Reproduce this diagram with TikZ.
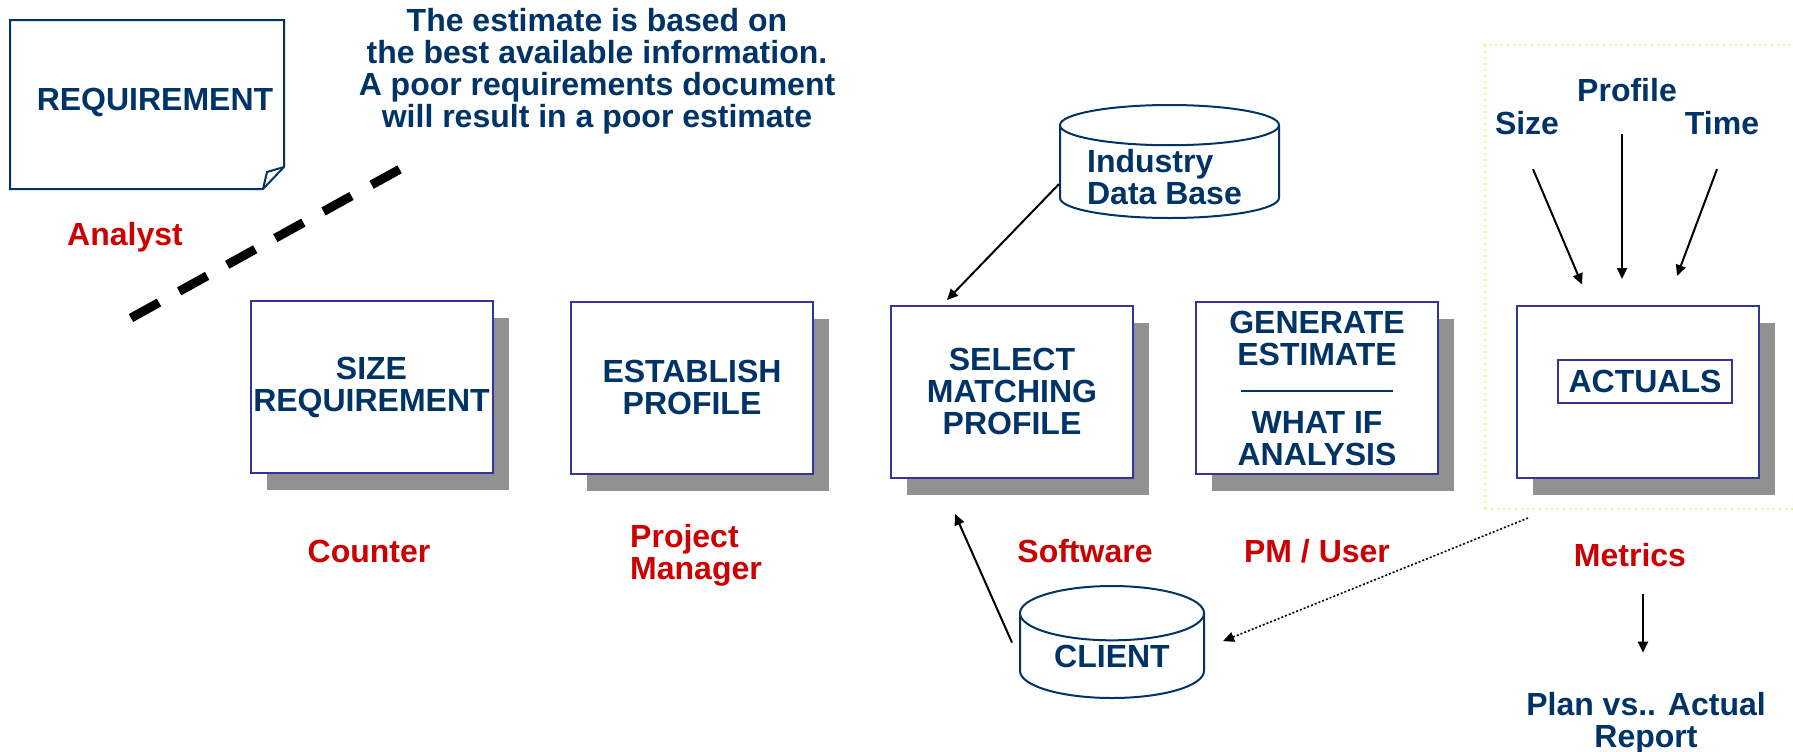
\documentclass[tikz,border=0pt]{standalone}
\usepackage{fontspec}
\setmainfont{Liberation Sans}
\usepackage{tikz}
\usetikzlibrary{shapes,arrows,positioning,calc,shadows,arrows.meta}

\definecolor{navy}{HTML}{003366}
\definecolor{boxblue}{HTML}{333399}
\definecolor{role}{HTML}{CC0000}
\definecolor{shade}{HTML}{919191}
\definecolor{frameyellow}{HTML}{F4F07C}

\tikzset{
  txt/.style={font=\bfseries\fontsize{16}{16}\selectfont, text=navy, inner sep=0pt, align=center},
  who/.style={txt, text=role},
  stepbox/.style={txt, draw=boxblue, line width=1pt, fill=white, minimum width=121pt, minimum height=86pt,
    drop shadow={shadow xshift=8pt, shadow yshift=-8.5pt, fill=shade, opacity=1}},
  store/.style={txt, cylinder, shape border rotate=90, draw=navy, line width=1pt, anchor=north},
  arr/.style={line width=1pt, -{Triangle[length=5.5pt,width=5pt]}},
}

\begin{document}
\begin{tikzpicture}[x=0.5pt, y=-0.5pt]
    \useasboundingbox (0,0) rectangle (1793,751);

    % Requirement sheet
    \draw[navy, line width=1pt] (10,20) -- (284,20) -- (284,167) -- (263,189) -- (10,189) -- cycle;
    \draw[navy, line width=1pt] (263,189) -- (267,172) -- (284,167);
    \node[txt] (req) at (155,102) {REQUIREMENT};
    \node[who] (analyst) at (125,237) {Analyst};

    % Note
    \node[txt] (note) at (597,71)
        {The estimate is based on\\the best available information.\\A poor requirements document\\will result in a poor estimate};
    \draw[line width=4.5pt, dash pattern=on 16pt off 11.5pt] (131,318) -- (402,168);

    % Metrics frame
    \node[draw=frameyellow, dotted, line width=1pt, minimum width=160pt, minimum height=232pt] (frame) at (1645,277) {};

    % Steps
    \node[stepbox] (sizebox) at (371.5,387) {SIZE\\REQUIREMENT};
    \node[stepbox] (profbox) at (692,387.5) {ESTABLISH\\PROFILE};
    \node[stepbox] (selbox) at (1012,391.5) {SELECT\\MATCHING\\PROFILE};
    \node[stepbox] (genbox) at (1317,388) {GENERATE\\ESTIMATE\\[-2.5pt]\rule{76pt}{1pt}\\[4.5pt]WHAT IF\\ANALYSIS};
    \node[stepbox] (actbox) at (1637.5,391.5) {};
    \node[txt, draw=boxblue, line width=0.7pt, minimum width=87pt, minimum height=21.5pt] (actlabel) at (1645,381.5) {ACTUALS};

    % Roles
    \node[who] (counter) at (369,551) {Counter};
    \node[who, align=left] (pm) at (696,555) {Project\\Manager};
    \node[who] (software) at (1085,551) {Software};
    \node[who] (user) at (1317,551) {PM / User};
    \node[who] (metrics) at (1630,555) {Metrics};

    % Data stores
    \node[store, aspect=0.26, minimum width=109.5pt, minimum height=56.5pt] (industry) at (1169.5,104) {\phantom{Data Base}};
    \node[txt, align=left] (industrytext) at (1164.5,177) {Industry\\Data Base};
    \node[store, aspect=0.47, minimum width=92pt, minimum height=56pt] (client) at (1112,585) {CLIENT};
    \draw[arr] ([yshift=-6pt]industry.west) -- ([xshift=28.5pt,yshift=2.25pt]selbox.north west);
    \draw[arr] ([xshift=-3.5pt,yshift=6.75pt]client.west) -- ([xshift=32.5pt,yshift=-17.75pt]selbox.south west);
    \draw[arr, densely dotted, line width=0.8pt] ([xshift=22pt,yshift=-4pt]frame.south west) -- ([xshift=9pt,yshift=7.5pt]client.east);

    % Inputs to actuals
    \node[txt] (lsize) at (1527,123) {Size};
    \node[txt] (lprofile) at (1627,90) {Profile};
    \node[txt] (ltime) at (1722,123) {Time};
    \draw[arr] ([xshift=3pt,yshift=-17pt]lsize.south) -- ([xshift=-27.75pt,yshift=10pt]actbox.north);
    \draw[arr] ([xshift=-2.5pt,yshift=-15.75pt]lprofile.south) -- ([xshift=-7.75pt,yshift=12.75pt]actbox.north);
    \draw[arr] ([xshift=-2.5pt,yshift=-17pt]ltime.south) -- ([xshift=19.75pt,yshift=14.25pt]actbox.north);

    % Report
    \node[txt] (report) at (1646,723) {Plan vs.. Actual\\Report};
    \draw[arr] ([xshift=6.5pt,yshift=-13.5pt]metrics.south) -- ([xshift=-1.5pt,yshift=19.5pt]report.north);
\end{tikzpicture}
\end{document}
